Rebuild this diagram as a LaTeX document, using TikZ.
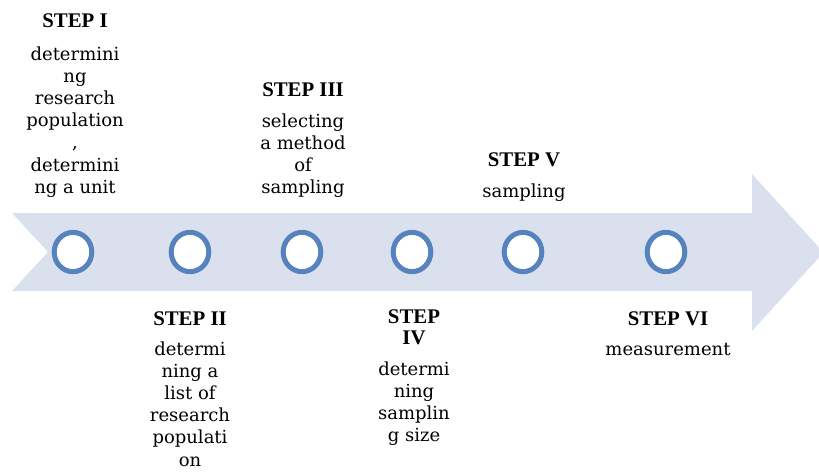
\documentclass[tikz,border=0pt]{standalone}
\usepackage{fontspec}
\setmainfont{DejaVu Serif}
\newfontfamily\stepfont{Liberation Serif}
\usetikzlibrary{shapes.geometric}
\definecolor{arrowfill}{RGB}{218,224,238}
\definecolor{ringblue}{RGB}{86,131,189}
\begin{document}
\begin{tikzpicture}[x=1pt,y=-1pt,
  steptitle/.style={font=\stepfont\bfseries\fontsize{20.8}{21}\selectfont,
    inner sep=0pt, anchor=base, align=center},
  stepbody/.style={font=\fontsize{18}{22.2}\selectfont,
    inner sep=0pt, anchor=base, align=center},
  marker/.style={ellipse, draw=ringblue, line width=5pt, fill=white,
    minimum width=37.6pt, minimum height=39.3pt, inner sep=0pt}]
\useasboundingbox (0,0) rectangle (819,475);
\clip (0,0) rectangle (819,475);

% timeline arrow with notched tail
\fill[arrowfill] (12,213) -- (752,213) -- (752,174) -- (823.5,252.5)
  -- (752,331) -- (752,291) -- (12,291) -- (48,252) -- cycle;

% step markers
\node[marker] (m1) at (73,252) {};
\node[marker] (m2) at (190,252) {};
\node[marker] (m3) at (302,252) {};
\node[marker] (m4) at (412,252) {};
\node[marker] (m5) at (523,252) {};
\node[marker] (m6) at (666,252) {};

% labels above the arrow (multi-line nodes sit on the baseline of their last line)
\node[steptitle] (t1) at (75,27) {STEP I};
\node[stepbody] (b1) at (75,193.2) {determini\\ng\\research\\population\\,\\determini\\ng a unit};
\node[steptitle] (t3) at (303,96) {STEP III};
\node[stepbody] (b3) at (303,193.6) {selecting\\a method\\of\\sampling};
\node[steptitle] (t5) at (524,166) {STEP V};
\node[stepbody] (b5) at (524,197) {sampling};

% labels below the arrow
\node[steptitle] (t2) at (190,325) {STEP II};
\node[stepbody] (b2) at (190,466) {determi\\ning a\\list of\\research\\populati\\on};
\node[steptitle] (t4) at (414,344) {STEP\\IV};
\node[stepbody] (b4) at (414,441.6) {determi\\ning\\samplin\\g size};
\node[steptitle] (t6) at (668,325) {STEP VI};
\node[stepbody] (b6) at (668,355) {measurement};
\end{tikzpicture}
\end{document}
